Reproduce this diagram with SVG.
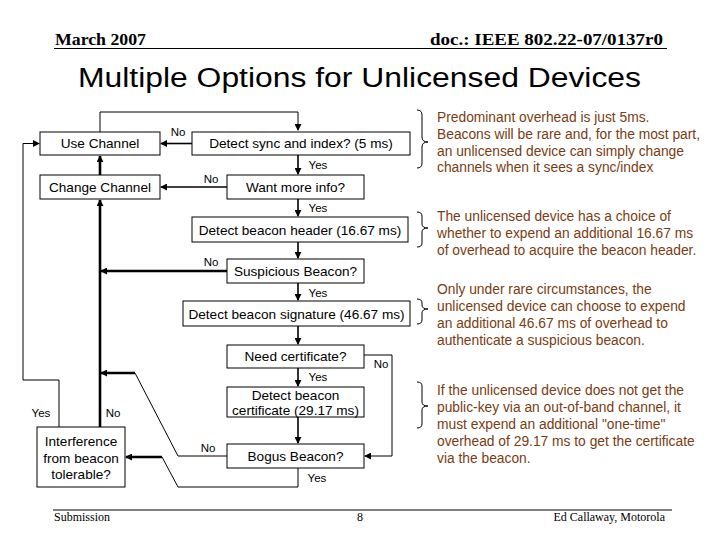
<svg xmlns="http://www.w3.org/2000/svg" width="720" height="540" viewBox="0 0 720 540">
<defs>
<marker id="ah" viewBox="0 0 8 8" refX="7" refY="4" markerWidth="7" markerHeight="7" markerUnits="userSpaceOnUse" orient="auto">
<path d="M0,0 L8,4 L0,8 Z" fill="#000"/>
</marker>
</defs>
<style>
.box{fill:#fff;stroke:#000;stroke-width:1}
.bt{font-family:"Liberation Sans",Arial,sans-serif;font-size:13.6px;fill:#000;text-anchor:middle}
.lb{font-family:"Liberation Sans",Arial,sans-serif;font-size:11.5px;fill:#000;text-anchor:middle}
.note{font-family:"Liberation Sans",Arial,sans-serif;font-size:13.8px;fill:#7a3c12}
.hd{font-family:"Liberation Serif","Times New Roman",serif;font-weight:bold;font-size:17px;fill:#000}
.ft{font-family:"Liberation Serif","Times New Roman",serif;font-size:12px;fill:#000}
.thin{fill:none;stroke:#000;stroke-width:1}
.mid{fill:none;stroke:#000;stroke-width:1.6}
.thick{fill:none;stroke:#000;stroke-width:2.6}
.brace{fill:none;stroke:#000;stroke-width:1}
</style>
<rect width="720" height="540" fill="#fff"/>
<g id="header">
<text class="hd" x="55" y="45" textLength="91" lengthAdjust="spacingAndGlyphs">March 2007</text>
<text class="hd" x="430" y="45" textLength="233" lengthAdjust="spacingAndGlyphs">doc.: IEEE 802.22-07/0137r0</text>
<line x1="54" y1="48.5" x2="667" y2="48.5" stroke="#000" stroke-width="1"/>
<text x="78" y="87" font-family="'Liberation Sans',Arial,sans-serif" font-size="27" fill="#000" textLength="563" lengthAdjust="spacingAndGlyphs">Multiple Options for Unlicensed Devices</text>
</g>
<g id="connectors">
<path class="thin" d="M100,132 V112 H298 V130" marker-end="url(#ah)"/>
<path class="mid" d="M192,143.5 H161" marker-end="url(#ah)"/>
<path class="thick" d="M100,175 V156" marker-end="url(#ah)"/>
<path class="mid" d="M298,155 V174" marker-end="url(#ah)"/>
<path class="mid" d="M227,187 H161" marker-end="url(#ah)"/>
<path class="mid" d="M298,199 V216" marker-end="url(#ah)"/>
<path class="mid" d="M298,242 V258" marker-end="url(#ah)"/>
<path class="thick" d="M100,427 V200" marker-end="url(#ah)"/>
<path class="thick" d="M227,271 H101" marker-end="url(#ah)"/>
<path class="mid" d="M298,283 V300" marker-end="url(#ah)"/>
<path class="mid" d="M298,326 V344" marker-end="url(#ah)"/>
<path class="mid" d="M298,368 V386" marker-end="url(#ah)"/>
<path class="mid" d="M298,417 V443" marker-end="url(#ah)"/>
<path class="thin" d="M364,355 H392 V456 H365" marker-end="url(#ah)"/>
<path class="thin" d="M227,456 H178 L135,373"/>
<path class="thick" d="M135,373 H101" marker-end="url(#ah)"/>
<path class="thin" d="M298,468 V487 H178 L162,457"/>
<path class="thick" d="M162,457 H126" marker-end="url(#ah)"/>
<path class="thin" d="M59,427 V380 H23 V143.5 H39" marker-end="url(#ah)"/>
</g>
<g id="n-use"><rect class="box" x="40" y="132" width="120" height="23"/><text class="bt" x="100" y="148">Use Channel</text></g>
<g id="n-change"><rect class="box" x="40" y="175" width="120" height="24"/><text class="bt" x="100" y="191.5">Change Channel</text></g>
<g id="n-sync"><rect class="box" x="192" y="132" width="218" height="23"/><text class="bt" x="301" y="148">Detect sync and index? (5 ms)</text></g>
<g id="n-want"><rect class="box" x="227" y="175" width="137" height="24"/><text class="bt" x="295.5" y="191.5">Want more info?</text></g>
<g id="n-header"><rect class="box" x="192" y="217" width="216" height="25"/><text class="bt" x="300" y="234.5">Detect beacon header (16.67 ms)</text></g>
<g id="n-susp"><rect class="box" x="227" y="259" width="137" height="24"/><text class="bt" x="295.5" y="275.5">Suspicious Beacon?</text></g>
<g id="n-sig"><rect class="box" x="183" y="301" width="227" height="25"/><text class="bt" x="296.5" y="318.5">Detect beacon signature (46.67 ms)</text></g>
<g id="n-need"><rect class="box" x="227" y="345" width="137" height="23"/><text class="bt" x="295.5" y="361">Need certificate?</text></g>
<g id="n-cert"><rect class="box" x="227" y="387" width="137" height="30"/><text class="bt" x="295.5" y="400">Detect beacon</text><text class="bt" x="295.5" y="415" font-size="13">certificate (29.17 ms)</text></g>
<g id="n-bogus"><rect class="box" x="227" y="444" width="137" height="24"/><text class="bt" x="295.5" y="460.5">Bogus Beacon?</text></g>
<g id="n-interf"><rect class="box" x="37" y="427" width="88" height="60"/><text class="bt" x="81" y="446">Interference</text><text class="bt" x="81" y="462.5">from beacon</text><text class="bt" x="81" y="479">tolerable?</text></g>
<g id="labels">
<text class="lb" x="178" y="136">No</text>
<text class="lb" x="318" y="169">Yes</text>
<text class="lb" x="211" y="183">No</text>
<text class="lb" x="318" y="212">Yes</text>
<text class="lb" x="211" y="266">No</text>
<text class="lb" x="318" y="297">Yes</text>
<text class="lb" x="381" y="368">No</text>
<text class="lb" x="318" y="381">Yes</text>
<text class="lb" x="41" y="417">Yes</text>
<text class="lb" x="113" y="417">No</text>
<text class="lb" x="208" y="452">No</text>
<text class="lb" x="317" y="482">Yes</text>
</g>
<g id="braces">
<path class="brace" d="M417,110 Q422,110 422,115 L422,137 Q422,142 428,142 Q422,142 422,147 L422,163 Q422,168 417,168"/>
<path class="brace" d="M417,212 Q422,212 422,216 L422,224 Q422,228 428,228 Q422,228 422,232 L422,243 Q422,247 417,247"/>
<path class="brace" d="M417,299 Q422,299 422,303 L422,305 Q422,309 428,309 Q422,309 422,313 L422,320 Q422,324 417,324"/>
<path class="brace" d="M417,382 Q422,382 422,386 L422,402 Q422,406 428,406 Q422,406 422,410 L422,424 Q422,428 417,428"/>
</g>
<g id="notes">
<text class="note" x="437" y="122">Predominant overhead is just 5ms.</text>
<text class="note" x="437" y="139">Beacons will be rare and, for the most part,</text>
<text class="note" x="437" y="156">an unlicensed device can simply change</text>
<text class="note" x="437" y="172">channels when it sees a sync/index</text>
<text class="note" x="437" y="221">The unlicensed device has a choice of</text>
<text class="note" x="437" y="238">whether to expend an additional 16.67 ms</text>
<text class="note" x="437" y="255">of overhead to acquire the beacon header.</text>
<text class="note" x="437" y="294">Only under rare circumstances, the</text>
<text class="note" x="437" y="311">unlicensed device can choose to expend</text>
<text class="note" x="437" y="328">an additional 46.67 ms of overhead to</text>
<text class="note" x="437" y="345">authenticate a suspicious beacon.</text>
<text class="note" x="437" y="395">If the unlicensed device does not get the</text>
<text class="note" x="437" y="412">public-key via an out-of-band channel, it</text>
<text class="note" x="437" y="429">must expend an additional "one-time"</text>
<text class="note" x="437" y="446">overhead of 29.17 ms to get the certificate</text>
<text class="note" x="437" y="463">via the beacon.</text>
</g>
<g id="footer">
<line x1="53" y1="510" x2="672" y2="510" stroke="#000" stroke-width="1"/>
<text class="ft" x="54" y="521">Submission</text>
<text class="ft" x="360" y="521" text-anchor="middle">8</text>
<text class="ft" x="665" y="521" text-anchor="end">Ed Callaway, Motorola</text>
</g>
</svg>
